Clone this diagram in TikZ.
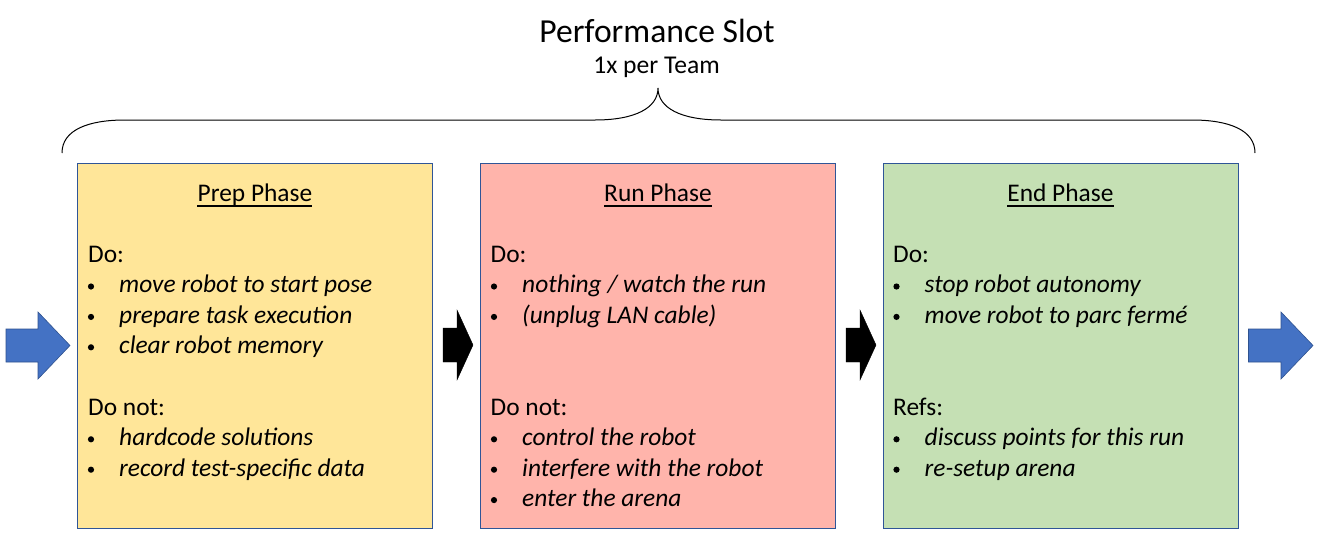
\documentclass[tikz,border=0pt]{standalone}
\usepackage{fontspec}
\setmainfont{Carlito}
\usetikzlibrary{calc}
\definecolor{prepfill}{HTML}{FFE699}
\definecolor{runfill}{HTML}{FFB4AB}
\definecolor{endfill}{HTML}{C5E0B4}
\definecolor{boxline}{HTML}{2F5597}
\definecolor{arrblue}{HTML}{4472C4}
\definecolor{arrblueline}{HTML}{2F528F}
\tikzset{
  phasebox/.style={draw=boxline, line width=0.9pt, anchor=north west, minimum width=355pt, minimum height=365pt, inner sep=0pt},
  headtxt/.style={font=\fontsize{25.4}{30}\selectfont, anchor=base, inner sep=0pt},
  bodytxt/.style={font=\fontsize{25.4}{30}\selectfont, anchor=base west, inner sep=0pt},
  itemtxt/.style={font=\fontsize{25.4}{30}\selectfont\itshape, anchor=base west, inner sep=0pt},
  bul/.style={circle, fill=black, inner sep=0pt, minimum size=6.2pt},
  blockblue/.style={fill=arrblue, draw=arrblueline, line width=0.6pt},
  blockblack/.style={fill=black, draw=black, line width=0.4pt},
  bracestyle/.style={draw=black, line width=1pt},
  uline/.style={draw=black, line width=1.4pt}
}
\begin{document}
\begin{tikzpicture}[x=1pt,y=-1pt]
\useasboundingbox (0,0) rectangle (1326,544);
\fill[white] (0,0) rectangle (1326,544);

% title
\node[font=\fontsize{33.6}{38}\selectfont, anchor=base, inner sep=0pt] (title) at (657,42.3) {Performance Slot};
\node[font=\fontsize{25.6}{30}\selectfont, anchor=base, inner sep=0pt] (subtitle) at (656.5,73.3) {1x per Team};

% brace
\coordinate (bl) at (62,153);
\coordinate (bm) at (658,88);
\coordinate (br) at (1255,153);
\draw[bracestyle] (bl) .. controls (62,130) and (88,120) .. (125,120) -- (595,120)
  .. controls (635,120) and (658,108) .. (bm)
  .. controls (658,108) and (681,120) .. (721,120) -- (1192,120)
  .. controls (1229,120) and (1255,130) .. (br);

% boxes
\node[phasebox, fill=prepfill] (prep) at (77,163) {};
\node[phasebox, fill=runfill] (run) at (480,163) {};
\node[phasebox, fill=endfill] (endp) at (882.5,163) {};

% headers
\foreach \b/\t in {prep/Prep Phase, run/Run Phase, endp/End Phase}{
  \node[headtxt] (\b head) at ($(\b.north)+(0,38)$) {\t};
  \draw[uline] ($(\b head.base west)+(0,5)$) -- ($(\b head.base east)+(0,5)$);
}

% prep text
\node[bodytxt] (p1) at ($(prep.north west)+(11,99.5)$) {Do:};
\node[bul] (pb2) at ($(prep.north west)+(14,123.5)$) {};
\node[itemtxt] (p2) at ($(prep.north west)+(42,129.9)$) {move robot to start pose};
\node[bul] (pb3) at ($(prep.north west)+(14,153.9)$) {};
\node[itemtxt] (p3) at ($(prep.north west)+(42,160.3)$) {prepare task execution};
\node[bul] (pb4) at ($(prep.north west)+(14,184.3)$) {};
\node[itemtxt] (p4) at ($(prep.north west)+(42,190.7)$) {clear robot memory};
\node[bodytxt] (p5) at ($(prep.north west)+(11,252.3)$) {Do not:};
\node[bul] (pb6) at ($(prep.north west)+(14,276.3)$) {};
\node[itemtxt] (p6) at ($(prep.north west)+(42,282.7)$) {hardcode solutions};
\node[bul] (pb7) at ($(prep.north west)+(14,306.7)$) {};
\node[itemtxt] (p7) at ($(prep.north west)+(42,313.1)$) {record test-specific data};

% run text
\node[bodytxt] (r1) at ($(run.north west)+(10.5,99.5)$) {Do:};
\node[bul] (rb2) at ($(run.north west)+(14,123.5)$) {};
\node[itemtxt] (r2) at ($(run.north west)+(42,129.9)$) {nothing / watch the run};
\node[bul] (rb3) at ($(run.north west)+(14,153.9)$) {};
\node[itemtxt] (r3) at ($(run.north west)+(42,160.3)$) {(unplug LAN cable)};
\node[bodytxt] (r5) at ($(run.north west)+(10.5,252.3)$) {Do not:};
\node[bul] (rb6) at ($(run.north west)+(14,276.3)$) {};
\node[itemtxt] (r6) at ($(run.north west)+(42,282.7)$) {control the robot};
\node[bul] (rb7) at ($(run.north west)+(14,306.7)$) {};
\node[itemtxt] (r7) at ($(run.north west)+(42,313.1)$) {interfere with the robot};
\node[bul] (rb8) at ($(run.north west)+(14,337.1)$) {};
\node[itemtxt] (r8) at ($(run.north west)+(42,343.5)$) {enter the arena};

% end text
\node[bodytxt] (e1) at ($(endp.north west)+(10.5,99.5)$) {Do:};
\node[bul] (eb2) at ($(endp.north west)+(14,123.5)$) {};
\node[itemtxt] (e2) at ($(endp.north west)+(42,129.9)$) {stop robot autonomy};
\node[bul] (eb3) at ($(endp.north west)+(14,153.9)$) {};
\node[itemtxt] (e3) at ($(endp.north west)+(42,160.3)$) {move robot to parc fermé};
\node[bodytxt] (e5) at ($(endp.north west)+(10.5,252.3)$) {Refs:};
\node[bul] (eb6) at ($(endp.north west)+(14,276.3)$) {};
\node[itemtxt] (e6) at ($(endp.north west)+(42,282.7)$) {discuss points for this run};
\node[bul] (eb7) at ($(endp.north west)+(14,306.7)$) {};
\node[itemtxt] (e7) at ($(endp.north west)+(42,313.1)$) {re-setup arena};

% block arrows
\draw[blockblue] (6,329) -- (38,329) -- (38,312) -- (70,345.5) -- (38,379) -- (38,362) -- (6,362) -- cycle;
\draw[blockblue] (1248.5,329) -- (1281,329) -- (1281,312) -- (1313,345.5) -- (1281,379) -- (1281,362) -- (1248.5,362) -- cycle;
\draw[blockblack] (443,328) -- (457,328) -- (457,310) -- (473,345) -- (457,380) -- (457,362) -- (443,362) -- cycle;
\draw[blockblack] (846,328) -- (860,328) -- (860,310) -- (876,345) -- (860,380) -- (860,362) -- (846,362) -- cycle;
\end{tikzpicture}
\end{document}
